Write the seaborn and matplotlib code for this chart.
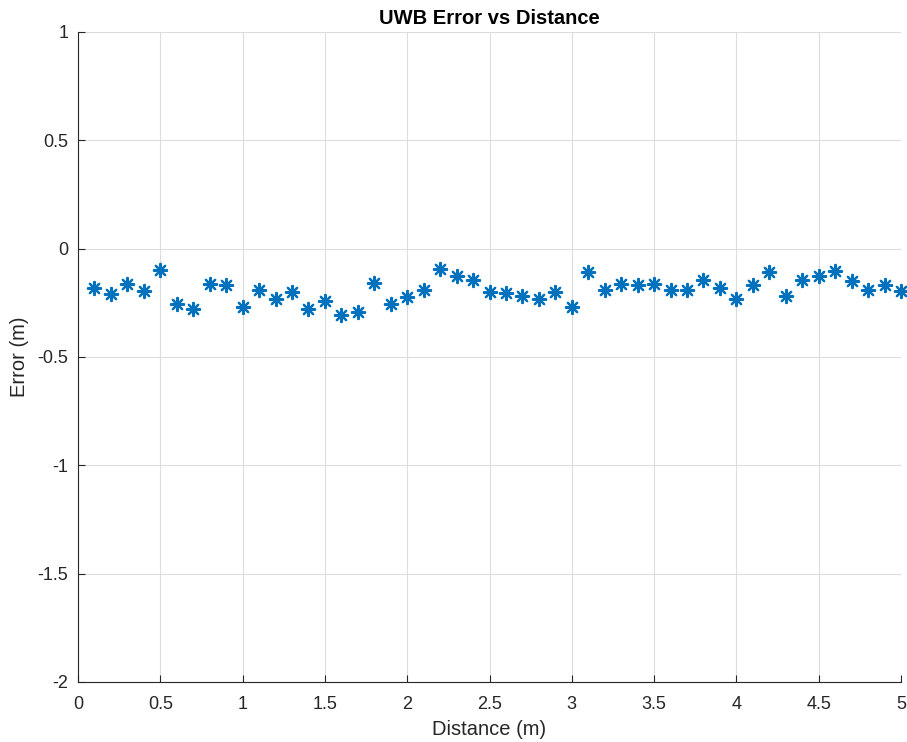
import numpy as np
import pandas as pd
import matplotlib
matplotlib.use("Agg")
import matplotlib.pyplot as plt
import seaborn as sns

distance = [0.1, 0.2, 0.3, 0.4, 0.5, 0.6, 0.7, 0.8, 0.9, 1.0,
            1.1, 1.2, 1.3, 1.4, 1.5, 1.6, 1.7, 1.8, 1.9, 2.0,
            2.1, 2.2, 2.3, 2.4, 2.5, 2.6, 2.7, 2.8, 2.9, 3.0,
            3.1, 3.2, 3.3, 3.4, 3.5, 3.6, 3.7, 3.8, 3.9, 4.0,
            4.1, 4.2, 4.3, 4.4, 4.5, 4.6, 4.7, 4.8, 4.9, 5.0]
error = [-0.180, -0.208, -0.165, -0.197, -0.100, -0.257, -0.277, -0.165, -0.169, -0.269,
         -0.192, -0.231, -0.202, -0.277, -0.243, -0.305, -0.292, -0.159, -0.257, -0.223,
         -0.189, -0.096, -0.126, -0.143, -0.200, -0.205, -0.220, -0.234, -0.200, -0.269,
         -0.108, -0.192, -0.165, -0.169, -0.162, -0.192, -0.192, -0.146, -0.180, -0.234,
         -0.169, -0.108, -0.220, -0.146, -0.126, -0.103, -0.149, -0.192, -0.169, -0.197]

x_ticks = [0, 0.5, 1, 1.5, 2, 2.5, 3, 3.5, 4, 4.5, 5]
x_labels = ["0", "0.5", "1", "1.5", "2", "2.5", "3", "3.5", "4", "4.5", "5"]
y_ticks = [-2, -1.5, -1, -0.5, 0, 0.5, 1]
y_labels = ["-2", "-1.5", "-1", "-0.5", "0", "0.5", "1"]

df = pd.DataFrame({"Distance": distance, "Error": error})

sns.set_theme(style="white")
plt.rcParams["font.family"] = ["Liberation Sans", "DejaVu Sans"]

fig = plt.figure(figsize=(9.07, 7.42), dpi=100)
ax = fig.add_axes([0.086, 0.081, 0.9074, 0.876])

sns.scatterplot(data=df, x="Distance", y="Error", ax=ax,
                marker=(8, 2, 0), s=90, color="#0072BD", linewidth=1.6,
                zorder=3, clip_on=False)

ax.set_xlim(0, 5)
ax.set_ylim(-2, 1)
ax.set_xticks(x_ticks)
ax.set_xticklabels(x_labels)
ax.set_yticks(y_ticks)
ax.set_yticklabels(y_labels)

ax.grid(True, color="#dcdcdc", linewidth=0.8)
ax.set_axisbelow(True)
for side in ("top", "right"):
    ax.spines[side].set_visible(False)
for side in ("left", "bottom"):
    ax.spines[side].set_color("#262626")
    ax.spines[side].set_linewidth(0.8)

ax.tick_params(axis="both", which="major", direction="in", length=5,
               width=0.8, color="#262626", labelsize=13, labelcolor="#262626",
               bottom=True, left=True)
ax.tick_params(axis="x", pad=10)
ax.tick_params(axis="y", pad=7)

ax.set_xlabel("Distance (m)", fontsize=14.5, color="#262626", labelpad=5)
ax.set_ylabel("Error (m)", fontsize=14.5, color="#262626", labelpad=6)
ax.set_title("UWB Error vs Distance", fontsize=14.5, fontweight="bold",
             color="black", pad=6)

fig.savefig("out.png", dpi=100, facecolor="white")
